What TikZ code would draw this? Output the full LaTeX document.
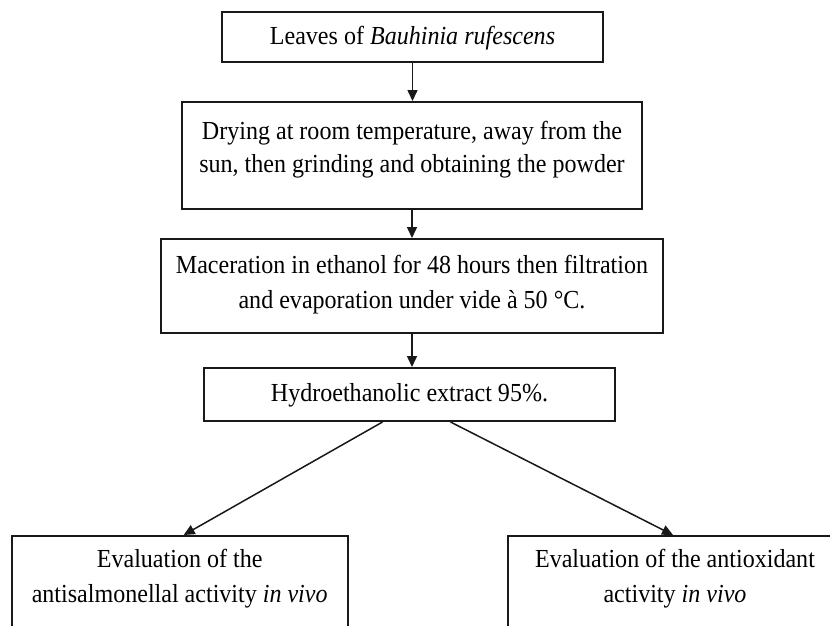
\documentclass[tikz,border=0pt]{standalone}
\usepackage{fontspec}
\setmainfont{Liberation Serif}[FakeStretch=0.925]
\usetikzlibrary{positioning, arrows.meta, calc}

\begin{document}
\begin{tikzpicture}[x=1pt, y=-1pt,
  stepbox/.style={draw=black!90, line width=2pt, inner sep=0pt},
  steptext/.style={align=center, inner sep=0pt, text=black, font=\fontsize{26}{35}\selectfont},
  steparrow/.style={line width=1.5pt, draw=black!90, -{Triangle[length=11pt,width=10pt]}}]

\useasboundingbox[fill=white] (0,0) rectangle (830,625);
\clip (0,0) rectangle (830,625);

% frames
\node[stepbox, minimum width=381pt, minimum height=50pt] (leaves) at (412.5,37) {};
\node[stepbox, minimum width=460pt, minimum height=107pt] (drying) at (412,155.5) {};
\node[stepbox, minimum width=502pt, minimum height=94pt] (macer) at (412,286) {};
\node[stepbox, minimum width=411pt, minimum height=53pt] (extract) at (409.5,394.5) {};
\node[stepbox, minimum width=336pt, minimum height=144pt] (antisal) at (179.7,608) {};
\node[stepbox, minimum width=335pt, minimum height=144pt] (antiox) at (675,608) {};

% texts
\node[steptext, below=14.5pt of leaves.north] (leavestext) {Leaves of \textit{Bauhinia rufescens}};
\node[steptext, font=\fontsize{26}{33}\selectfont, below=20.2pt of drying.north] (dryingtext) {Drying at room temperature, away from the\\sun, then grinding and obtaining the powder};
\node[steptext, below=16.5pt of macer.north] (macertext) {Maceration in ethanol for 48 hours then filtration\\and evaporation under vide à 50 °C.};
\node[steptext, below=15.9pt of extract.north] (extracttext) {Hydroethanolic extract 95\%.};
\node[steptext, below=14.2pt of antisal.north] (antisaltext) {Evaluation of the\\antisalmonellal activity \textit{in vivo}};
\node[steptext, below=14.2pt of antiox.north] (antioxtext) {Evaluation of the antioxidant\\activity \textit{in vivo}};

% arrows
\draw[steparrow] (leaves.south) -- (leaves.south |- drying.north);
\draw[steparrow] (drying.south) -- (drying.south |- macer.north);
\draw[steparrow] (macer.south) -- (macer.south |- extract.north);
\draw[steparrow] ([xshift=-27pt]extract.south) -- ([xshift=4pt]antisal.north);
\draw[steparrow] ([xshift=41pt]extract.south) -- ([xshift=-2pt]antiox.north);

\end{tikzpicture}
\end{document}
